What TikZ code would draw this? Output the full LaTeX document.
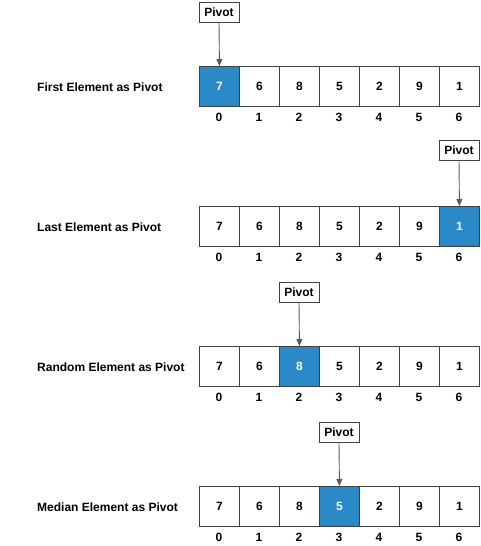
\documentclass[tikz,border=0pt]{standalone}
\usepackage{fontspec}
\setmainfont{Liberation Sans}
\usetikzlibrary{arrows.meta}
\definecolor{pivblue}{HTML}{2A8AC8}
\definecolor{edge}{HTML}{404040}
\definecolor{arrowgray}{HTML}{5A5A5A}
\tikzset{
  cell/.style={draw=edge, line width=0.9pt, minimum width=40pt, minimum height=40pt, inner sep=0pt, anchor=north west, font=\fontsize{12}{14}\selectfont\bfseries},
  pivcell/.style={cell, fill=pivblue, text=white},
  idx/.style={font=\fontsize{12}{14}\selectfont\bfseries, inner sep=0pt},
  rowlabel/.style={anchor=west, font=\fontsize{12}{14}\selectfont\bfseries, inner sep=0pt},
  pivbox/.style={draw=edge, line width=0.9pt, minimum width=40pt, minimum height=20pt, inner sep=0pt, font=\fontsize{12}{14}\selectfont\bfseries},
  parrow/.style={draw=arrowgray, line width=0.9pt, -{Triangle[length=7pt,width=6pt]}}
}
\begin{document}
\begin{tikzpicture}[x=1pt,y=-1pt]
\useasboundingbox (0,0) rectangle (480,546);
\def\vals{7,6,8,5,2,9,1}
\foreach \r/\top/\piv/\lab/\pb in {
  a/66/0/First Element as Pivot/2,
  b/206/6/Last Element as Pivot/140,
  c/346/2/Random Element as Pivot/282,
  d/486/3/Median Element as Pivot/422} {
  \node[rowlabel] (lab\r) at (37,\top+21) {\lab};
  \foreach \v [count=\i from 0] in \vals {
    \ifnum\i=\piv
      \node[pivcell] (\r\i) at (199+40*\i,\top) {\v};
    \else
      \node[cell] (\r\i) at (199+40*\i,\top) {\v};
    \fi
    \node[idx] (\r idx\i) at (219+40*\i,\top+51) {\i};
  }
  \node[pivbox] (piv\r) at (219+40*\piv,\pb+10) {Pivot};
  \draw[parrow] (piv\r.south) -- (\r\piv.north);
}
\end{tikzpicture}
\end{document}
